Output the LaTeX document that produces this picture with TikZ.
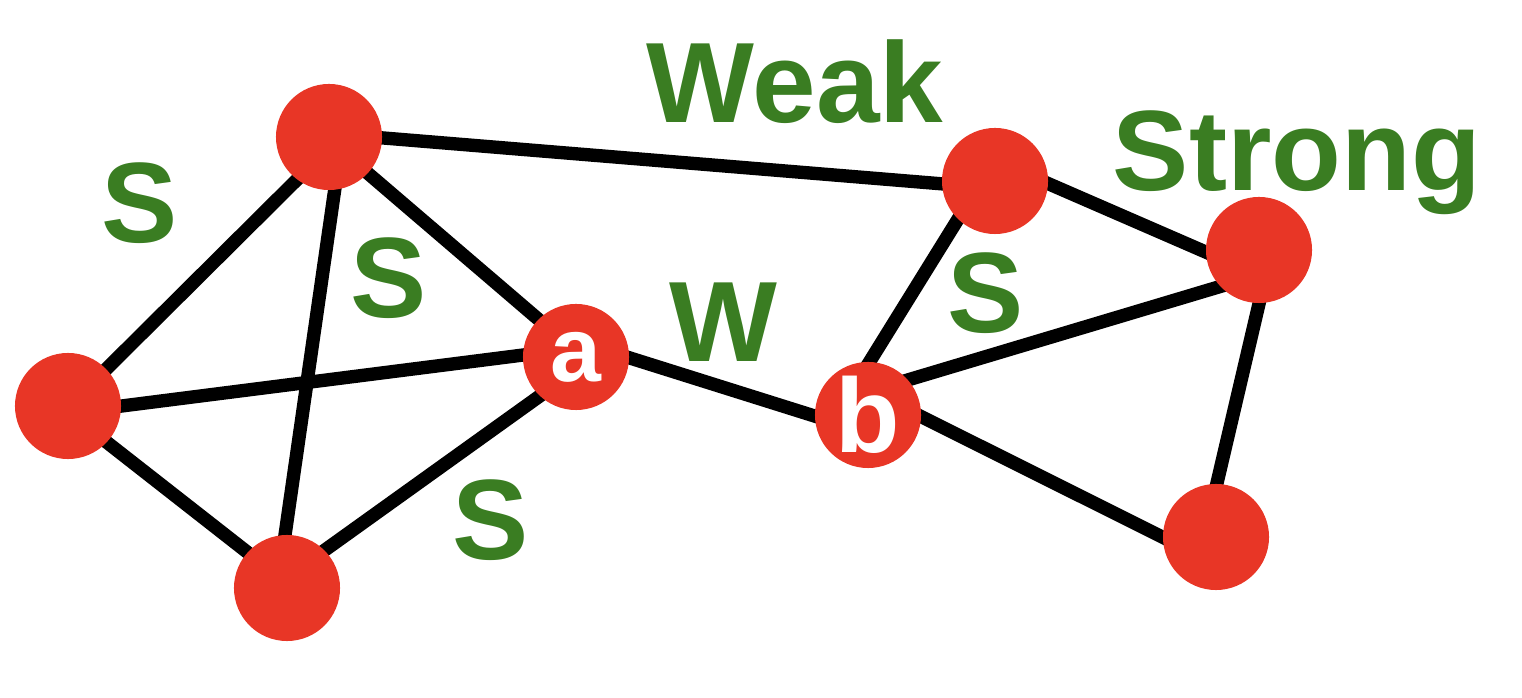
\documentclass[tikz,border=0pt]{standalone}
\usepackage{fontspec}
\setmainfont{Liberation Sans}
\usetikzlibrary{backgrounds}
\definecolor{nodered}{RGB}{232,54,38}
\definecolor{labgreen}{RGB}{58,125,34}
\begin{document}
\begin{tikzpicture}[x=0.01cm,y=-0.01cm,
  vert/.style={circle,fill=nodered,minimum size=1.06cm,inner sep=0pt,text=white,font=\bfseries},
  edge/.style={line width=3.8pt,black,shorten <=-4pt,shorten >=-4pt},
  lab/.style={text=labgreen,font=\fontsize{32.5}{34}\selectfont\bfseries,inner sep=0pt}]
\useasboundingbox (0,0) rectangle (1522,698);
\node[vert] (n1) at (329,137) {};
\node[vert] (n2) at (68,406) {};
\node[vert] (n3) at (287,588) {};
\node[vert,font=\fontsize{26}{28}\selectfont\bfseries] (a) at (576,357) {a};
\node[vert,font=\fontsize{30}{32}\selectfont\bfseries] (b) at (868,415) {b};
\node[vert] (n4) at (995,181) {};
\node[vert] (n5) at (1259,250) {};
\node[vert] (n6) at (1216,537) {};
\begin{pgfonlayer}{background}
\draw[edge] (n1.-1) -- (n4.183);
\draw[edge] (n1.233) -- (n2.44);
\draw[edge] (n1.276) -- (n3.92);
\draw[edge] (n1.317) -- (a.135);
\draw[edge] (n2.0) -- (a.178);
\draw[edge] (n2.317) -- (n3.138);
\draw[edge] (n3.45) -- (a.227);
\draw[edge] (a.-1) -- (b.181);
\draw[edge] (b.88) -- (n4.226);
\draw[edge] (b.41) -- (n5.223);
\draw[edge] (b.-2) -- (n6.180);
\draw[edge] (n4.-3) -- (n5.182);
\draw[edge] (n5.270) -- (n6.89);
\end{pgfonlayer}
\node[lab] (lweak) at (795,82) {Weak};
\node[lab] (lstrong) at (1297,163) {Strong};
\node[lab] (ls1) at (140,203) {S};
\node[lab] (ls2) at (389,278) {S};
\node[lab] (lw) at (723,322) {W};
\node[lab] (ls3) at (986,293) {S};
\node[lab] (ls4) at (491,520) {S};
\end{tikzpicture}
\end{document}
